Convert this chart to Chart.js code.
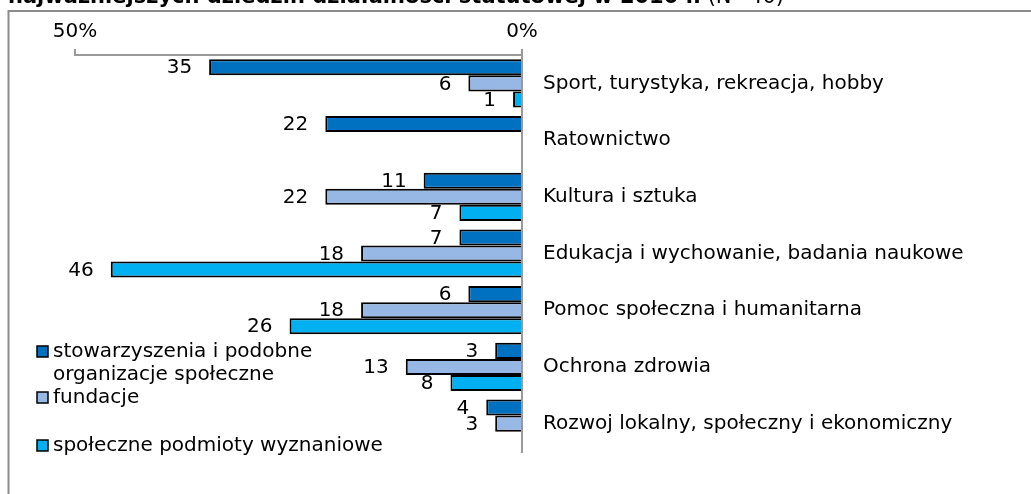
<!DOCTYPE html>
<html>
<head>
<meta charset="utf-8">
<script src="https://cdn.jsdelivr.net/npm/chart.js@4.4.1/dist/chart.umd.min.js"></script>
<style>
  html, body { margin: 0; padding: 0; background: #fff; }
  #wrap { width: 1031px; height: 494px; position: relative; }
</style>
</head>
<body>
<div id="wrap"><canvas id="areasChart" width="1031" height="494"></canvas></div>
<script>
// chart data
const categories = [
    'Sport, turystyka, rekreacja, hobby',
    'Ratownictwo',
    'Kultura i sztuka',
    'Edukacja i wychowanie, badania naukowe',
    'Pomoc społeczna i humanitarna',
    'Ochrona zdrowia',
    'Rozwoj lokalny, społeczny i ekonomiczny'
];
const seriesNames = [
    ['stowarzyszenia i podobne', 'organizacje społeczne'],
    ['fundacje'],
    ['społeczne podmioty wyznaniowe']
];
const stowarzyszenia = [35, 22, 11, 7, 6, 3, 4];
const fundacje = [6, null, 22, 18, 18, 13, 3];
const wyznaniowe = [1, null, 7, 46, 26, 8, null];
const xTicks = [0, 50];
const titleText = 'najważniejszych dziedzin działalności statutowej w 2010 r.';
const titleNote = ' (N=40)';

const colors = ['#0070c0', '#97b8e4', '#00b0f0'];
const FONT = '"DejaVu Sans", Verdana, sans-serif';

document.addEventListener('DOMContentLoaded', function () {
    const ctx = document.getElementById('areasChart');
    if (typeof Chart === 'undefined') {
        console.error('Chart.js not loaded!');
        return;
    }

    // white background, grey frame and the clipped title above it
    const framePlugin = {
        id: 'frame',
        beforeDraw(chart) {
            const c = chart.ctx;
            c.save();
            c.fillStyle = '#fff';
            c.fillRect(0, 0, chart.width, chart.height);
            c.strokeStyle = '#8c8c8c';
            c.lineWidth = 2;
            c.beginPath();
            c.moveTo(8.5, chart.height + 5);
            c.lineTo(8.5, 11);
            c.lineTo(chart.width + 5, 11);
            c.stroke();
            c.fillStyle = '#000';
            c.textBaseline = 'alphabetic';
            c.font = 'bold 21px ' + FONT;
            c.fillText(titleText, 8, 3);
            const w = c.measureText(titleText).width;
            c.font = '21px ' + FONT;
            c.fillText(titleNote, 8 + w, 3);
            c.restore();
        }
    };

    // value labels to the left of each bar end
    const valueLabels = {
        id: 'valueLabels',
        afterDatasetsDraw(chart) {
            const c = chart.ctx;
            c.save();
            c.font = '20px ' + FONT;
            c.fillStyle = '#000';
            c.textAlign = 'right';
            c.textBaseline = 'middle';
            chart.data.datasets.forEach(function (ds, i) {
                chart.getDatasetMeta(i).data.forEach(function (bar, j) {
                    const v = ds.data[j];
                    if (v === null || v === undefined) return;
                    c.fillText(String(v), bar.x - 17, bar.y + 1);
                });
            });
            c.restore();
        }
    };

    // legend drawn by hand so the first entry can wrap onto two lines
    const sideLegend = {
        id: 'sideLegend',
        afterDraw(chart) {
            const c = chart.ctx;
            const rows = [352, 398, 446];
            c.save();
            c.font = '20px ' + FONT;
            c.textBaseline = 'middle';
            c.textAlign = 'left';
            seriesNames.forEach(function (lines, i) {
                const y = rows[i];
                c.fillStyle = colors[i];
                c.fillRect(37, y - 6, 11, 11);
                c.strokeStyle = '#000';
                c.lineWidth = 1.5;
                c.strokeRect(37, y - 6, 11, 11);
                c.fillStyle = '#000';
                lines.forEach(function (t, k) {
                    c.fillText(t, 53, y + k * 23);
                });
            });
            c.restore();
        }
    };

    const datasets = [stowarzyszenia, fundacje, wyznaniowe].map(function (d, i) {
        return {
            label: seriesNames[i].join(' '),
            data: d,
            backgroundColor: colors[i],
            borderColor: '#000',
            borderWidth: 2,
            borderSkipped: 'start',
            categoryPercentage: 0.85,
            barPercentage: 1.0
        };
    });

    new Chart(ctx.getContext('2d'), {
        type: 'bar',
        data: { labels: categories, datasets: datasets },
        options: {
            indexAxis: 'y',
            responsive: false,
            animation: false,
            devicePixelRatio: 1,
            layout: { padding: { left: 75, right: 0, top: 10, bottom: 42 } },
            scales: {
                x: {
                    position: 'top',
                    reverse: true,
                    min: xTicks[0],
                    max: xTicks[1],
                    afterBuildTicks(scale) {
                        scale.ticks = xTicks.map(function (v) { return { value: v }; });
                    },
                    afterFit(scale) { scale.height = 45; },
                    ticks: {
                        padding: 5,
                        maxRotation: 0,
                        color: '#000',
                        font: { family: FONT, size: 20 },
                        callback: function (v) { return v + '%'; }
                    },
                    grid: {
                        display: true,
                        drawOnChartArea: false,
                        drawTicks: true,
                        tickLength: 6,
                        color: '#999',
                        lineWidth: 2
                    },
                    border: { display: true, color: '#999', width: 2 }
                },
                y: {
                    position: 'right',
                    afterFit(scale) { scale.width = 509; },
                    ticks: {
                        padding: 21,
                        color: '#000',
                        font: { family: FONT, size: 20 }
                    },
                    grid: { display: false, drawTicks: false },
                    border: { display: true, color: '#999', width: 2 }
                }
            },
            plugins: {
                legend: { display: false },
                tooltip: { enabled: false }
            }
        },
        plugins: [framePlugin, valueLabels, sideLegend]
    });
});
</script>
</body>
</html>
